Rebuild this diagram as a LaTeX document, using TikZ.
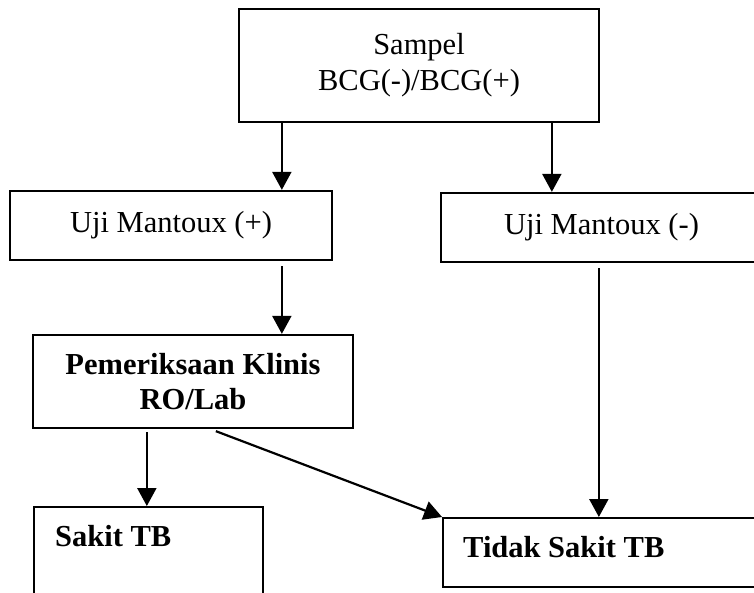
\documentclass[tikz,border=0pt]{standalone}
\usepackage{fontspec}
\setmainfont{Liberation Serif}
\usetikzlibrary{arrows.meta,calc}
\begin{document}
\begin{tikzpicture}[x=1pt,y=-1pt,
  box/.style={draw, line width=2.3pt, inner sep=0pt, align=center,
    font=\fontsize{30.5}{36}\selectfont},
  lbl/.style={inner sep=0pt, font=\fontsize{30.5}{35}\selectfont\bfseries},
  arr/.style={line width=2.2pt, -{Triangle[length=18pt,width=19pt]}}]
\useasboundingbox (0,0) rectangle (754,593);
\begin{scope}
\clip (0,0) rectangle (754,593);
\node[box, minimum width=360pt, minimum height=113pt] (top) at (419,65.5) {Sampel\\BCG(-)/BCG(+)};
\node[box, minimum width=322pt, minimum height=69pt] (upl) at (171,225.5) {Uji Mantoux (+)};
\node[box, minimum width=321pt, minimum height=69pt] (upr) at (601.5,227.5) {Uji Mantoux (-)};
\node[box, minimum width=320pt, minimum height=93pt, font=\fontsize{30.5}{35}\selectfont\bfseries] (pem) at (193,381.5) {Pemeriksaan Klinis\\RO/Lab};
\node[box, anchor=north west, minimum width=229pt, minimum height=130pt] (sakit) at (33,506) {};
\node[box, anchor=north west, minimum width=330pt, minimum height=69pt] (tidak) at (442,517) {};
\node[lbl, anchor=base west] (sakitt) at ($(sakit.north west)+(22,40)$) {Sakit TB};
\node[lbl, anchor=base west] (tidakt) at ($(tidak.north west)+(21,40)$) {Tidak Sakit TB};

\coordinate (a1) at ($(top.south west)+(44,0)$);
\coordinate (a2) at ($(top.south west)+(314,0)$);
\coordinate (a3) at ($(upl.south west)+(273,5)$);
\coordinate (a4) at ($(upr.south west)+(159,5)$);
\coordinate (a5) at ($(pem.south west)+(115,3)$);
\coordinate (a6) at ($(pem.south west)+(184,2)$);
\draw[arr] (a1) -- (a1 |- upl.north);
\draw[arr] (a2) -- (a2 |- upr.north);
\draw[arr] (a3) -- (a3 |- pem.north);
\draw[arr] (a4) -- (a4 |- tidak.north);
\draw[arr] (a5) -- (a5 |- sakit.north);
\draw[arr] (a6) -- (tidak.north west);
\end{scope}
\end{tikzpicture}
\end{document}
